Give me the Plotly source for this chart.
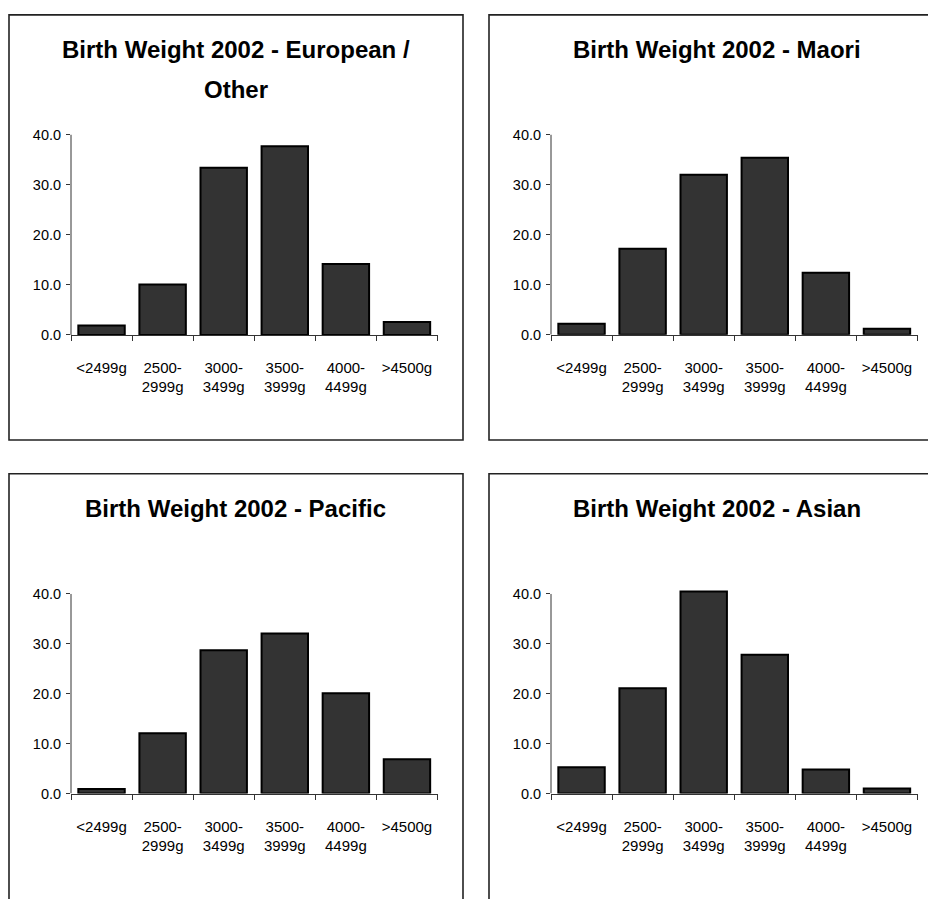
import plotly.graph_objects as go

categories = ["<2499g", "2500-<br>2999g", "3000-<br>3499g", "3500-<br>3999g", "4000-<br>4499g", ">4500g"]

european_other = [1.9, 10.1, 33.4, 37.7, 14.2, 2.6]
maori = [2.2, 17.2, 32.0, 35.4, 12.4, 1.2]
pacific = [0.9, 12.1, 28.7, 32.1, 20.1, 6.9]
asian = [5.3, 21.1, 40.5, 27.8, 4.8, 1.0]

title_lines = [
    ["Birth Weight 2002 - European /", "Other"],
    ["Birth Weight 2002 - Maori"],
    ["Birth Weight 2002 - Pacific"],
    ["Birth Weight 2002 - Asian"],
]
series = [european_other, maori, pacific, asian]

y_ticks = [0, 10, 20, 30, 40]

W, H = 928, 899
FONT = "Liberation Sans, Arial, sans-serif"

def px_x(p):
    return p / W

def px_y(p):
    return 1 - p / H

# panel geometry (pixels)
panels = [
    dict(box=(9, 15, 463, 444), ax_x=(71, 437.5), y0=338.0, y40=136.0, title_y=[50, 90], title_x=236),
    dict(box=(489, 15, 944, 444), ax_x=(551, 917.5), y0=337.7, y40=136.0, title_y=[50], title_x=716.5),
    dict(box=(9, 478, 463, 910), ax_x=(71, 437.5), y0=800.7, y40=599.3, title_y=[513], title_x=236),
    dict(box=(489, 478, 944, 910), ax_x=(551, 917.5), y0=800.7, y40=599.3, title_y=[513], title_x=716.5),
]

YMAX = 41.5

fig = go.Figure()
layout = dict(
    width=W, height=H,
    margin=dict(l=0, r=0, t=0, b=0),
    paper_bgcolor="white", plot_bgcolor="white",
    showlegend=False,
    bargap=0.24,
    font=dict(family=FONT, color="black"),
    shapes=[], annotations=[],
)

for i, (p, vals) in enumerate(zip(panels, series)):
    n = "" if i == 0 else str(i + 1)
    xa, ya = "x" + n, "y" + n
    fig.add_trace(go.Bar(
        x=categories, y=vals, xaxis=xa, yaxis=ya,
        marker=dict(color="#333333", line=dict(color="black", width=2)),
        hoverinfo="skip",
    ))
    ppu = (p["y0"] - p["y40"]) / 40.0
    top_px = p["y0"] - YMAX * ppu
    layout["xaxis" + n] = dict(
        domain=[px_x(p["ax_x"][0]), px_x(p["ax_x"][1])],
        anchor=ya, type="category", range=[-0.5, 5.5],
        showline=True, linecolor="#333", linewidth=1,
        ticks="outside", tickson="boundaries", ticklen=5, tickcolor="#333",
        ticklabelstandoff=19, tickangle=0,
        showgrid=False, zeroline=False,
        tickfont=dict(family=FONT, size=15, color="black"),
        fixedrange=True,
    )
    layout["yaxis" + n] = dict(
        domain=[px_y(p["y0"]), px_y(top_px)],
        anchor=xa, range=[0, YMAX],
        showline=False, showgrid=False, zeroline=False,
        ticks="outside", ticklen=4, tickcolor="#333",
        ticklabelstandoff=2,
        tickvals=y_ticks, tickformat=".1f",
        tickfont=dict(family=FONT, size=14.5, color="black"),
        fixedrange=True,
    )
    # y axis line from 0 to 40
    layout["shapes"].append(dict(
        type="line", xref=xa + " domain", yref=ya, x0=0, x1=0, y0=0, y1=40,
        line=dict(color="#333", width=1),
    ))
    # panel border
    bx0, by0, bx1, by1 = p["box"]
    layout["shapes"].append(dict(
        type="rect", xref="paper", yref="paper",
        x0=px_x(bx0), x1=px_x(bx1), y0=px_y(by1), y1=px_y(by0),
        line=dict(color="#222", width=1.6), fillcolor="rgba(0,0,0,0)",
    ))
    for line_text, ty in zip(title_lines[i], p["title_y"]):
        layout["annotations"].append(dict(
            text="<b>" + line_text + "</b>", xref="paper", yref="paper",
            x=px_x(p["title_x"]), y=px_y(ty), xanchor="center", yanchor="middle",
            showarrow=False, font=dict(family=FONT, size=24, color="black"),
        ))

fig.update_layout(**layout)
fig.write_html("out.html")
